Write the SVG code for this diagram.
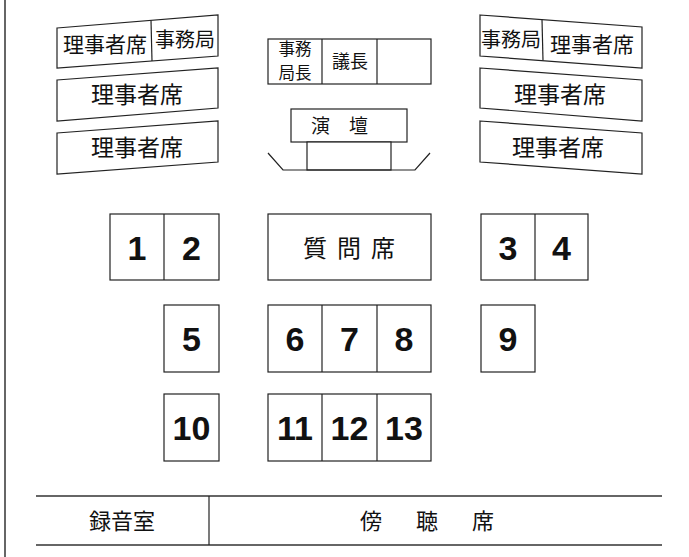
<svg xmlns="http://www.w3.org/2000/svg" width="689" height="557" viewBox="0 0 689 557">
<style>
.b{fill:#fff;stroke:#222;stroke-width:1.2}
.l{stroke:#222;stroke-width:1.2;fill:none}
.g{stroke:#666;stroke-width:2;fill:none}
.j{font-family:"Noto Sans CJK JP","Noto Sans CJK SC",sans-serif;fill:#111;text-anchor:middle}
.n{font-family:"Liberation Sans",Arial,sans-serif;font-weight:bold;font-size:34px;fill:#111;text-anchor:middle}
</style>
<rect x="0" y="0" width="689" height="557" fill="#fff"/>
<line class="g" x1="5" y1="0" x2="5" y2="557"/>

<g id="left-board-1">
<polygon class="b" points="57,28 218,15 218,56 57,68"/>
<line class="l" x1="151" y1="20.4" x2="152" y2="60.9"/>
<text class="j" x="105" y="52" font-size="21">理事者席</text>
<text class="j" x="185" y="47" font-size="20">事務局</text>
</g>
<g id="left-board-2">
<polygon class="b" points="57,80 218,68 218,108 57,121"/>
<text class="j" x="137" y="103" font-size="23">理事者席</text>
</g>
<g id="left-board-3">
<polygon class="b" points="57,133 218,121 218,162 57,174"/>
<text class="j" x="137" y="156" font-size="23">理事者席</text>
</g>

<g id="right-board-1">
<polygon class="b" points="480,15 642,27 642,68 480,56"/>
<line class="l" x1="542" y1="19.6" x2="543" y2="60.6"/>
<text class="j" x="511" y="47" font-size="20">事務局</text>
<text class="j" x="592" y="52" font-size="21">理事者席</text>
</g>
<g id="right-board-2">
<polygon class="b" points="480,68 642,80 642,121 480,108"/>
<text class="j" x="560" y="103" font-size="23">理事者席</text>
</g>
<g id="right-board-3">
<polygon class="b" points="480,121 642,133 642,174 480,162"/>
<text class="j" x="558" y="156" font-size="23">理事者席</text>
</g>

<g id="chair-row">
<rect class="b" x="268" y="39" width="163" height="45"/>
<line class="l" x1="322" y1="39" x2="322" y2="84"/>
<line class="l" x1="377" y1="39" x2="377" y2="84"/>
<text class="j" x="295" y="55" font-size="16.5">事務</text>
<text class="j" x="295" y="78.5" font-size="16.5">局長</text>
<text class="j" x="350" y="68" font-size="18">議長</text>
</g>

<g id="podium">
<rect class="b" x="291" y="109" width="116" height="33"/>
<text class="j" x="349" y="133" font-size="19" letter-spacing="19">演壇</text>
<rect class="b" x="307" y="142" width="84" height="28"/>
<polyline class="l" points="268,153 283,170 415,170 430,153"/>
</g>

<g id="seats-1-2">
<rect class="b" x="110" y="214" width="109" height="66"/>
<line class="l" x1="164" y1="214" x2="164" y2="280"/>
<text class="n" x="137" y="259.5">1</text>
<text class="n" x="191.5" y="259.5">2</text>
</g>
<g id="question-seat">
<rect class="b" x="268" y="214" width="163" height="66"/>
<text class="j" x="354" y="257" font-size="24" letter-spacing="10">質問席</text>
</g>
<g id="seats-3-4">
<rect class="b" x="481" y="214" width="107" height="66"/>
<line class="l" x1="535" y1="214" x2="535" y2="280"/>
<text class="n" x="508" y="259.5">3</text>
<text class="n" x="561.5" y="259.5">4</text>
</g>

<g id="seat-5">
<rect class="b" x="164" y="305" width="55" height="67"/>
<text class="n" x="191.5" y="350.5">5</text>
</g>
<g id="seats-6-8">
<rect class="b" x="268" y="305" width="163" height="67"/>
<line class="l" x1="322" y1="305" x2="322" y2="372"/>
<line class="l" x1="377" y1="305" x2="377" y2="372"/>
<text class="n" x="295" y="350.5">6</text>
<text class="n" x="349.5" y="350.5">7</text>
<text class="n" x="404" y="350.5">8</text>
</g>
<g id="seat-9">
<rect class="b" x="481" y="305" width="54" height="67"/>
<text class="n" x="508" y="350.5">9</text>
</g>

<g id="seat-10">
<rect class="b" x="164" y="394" width="55" height="67"/>
<text class="n" x="191.5" y="440">10</text>
</g>
<g id="seats-11-13">
<rect class="b" x="268" y="394" width="163" height="67"/>
<line class="l" x1="322" y1="394" x2="322" y2="461"/>
<line class="l" x1="377" y1="394" x2="377" y2="461"/>
<text class="n" x="295" y="440">11</text>
<text class="n" x="349.5" y="440">12</text>
<text class="n" x="404" y="440">13</text>
</g>

<g id="gallery">
<line class="g" x1="36" y1="496" x2="662" y2="496"/>
<line class="g" x1="36" y1="545" x2="662" y2="545"/>
<line class="l" x1="209" y1="496" x2="209" y2="545"/>
<text class="j" x="122" y="529" font-size="22">録音室</text>
<text class="j" x="444" y="529" font-size="22" letter-spacing="34">傍聴席</text>
</g>
</svg>
